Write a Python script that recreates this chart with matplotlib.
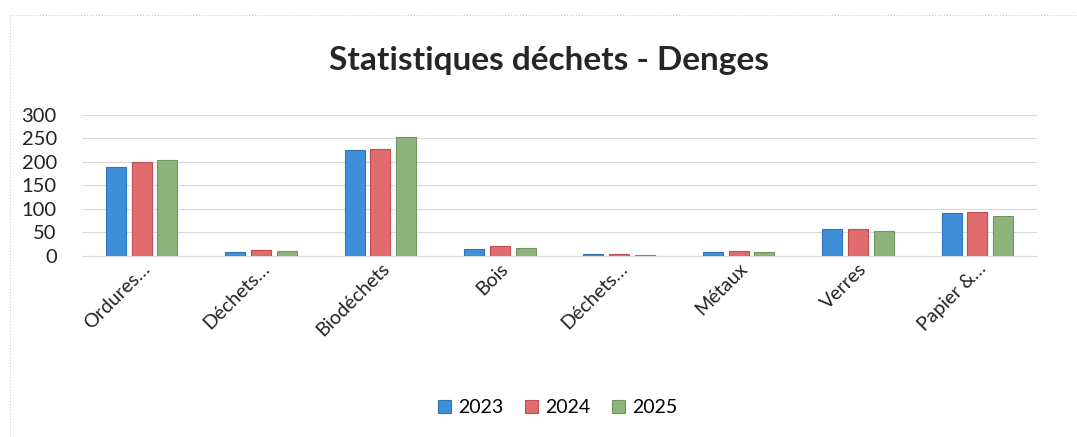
import numpy as np
import matplotlib as mpl
mpl.use("Agg")
import matplotlib.pyplot as plt

plt.rcParams['font.family'] = ['Lato', 'DejaVu Sans']

categories = ["Ordures…", "Déchets…", "Biodéchets", "Bois", "Déchets…",
              "Métaux", "Verres", "Papier &…"]
years = ["2023", "2024", "2025"]
v2023 = [190, 8, 225, 14, 3, 7, 57, 90]
v2024 = [200, 11, 227, 21, 2.5, 10, 57, 93]
v2025 = [204, 10, 252, 16, 2, 8, 52, 84]

colors = ["#3f8fd8", "#e06c6e", "#8db47b"]
edges = ["#2f74b8", "#c24d50", "#6d9660"]

fig = plt.figure(figsize=(10.77, 4.37), dpi=100)
ax = fig.add_axes([0.076, 0.415, 0.887, 0.322])

x = np.arange(len(categories))
width = 0.168
offset = 0.216
for i, (vals, lab) in enumerate(zip([v2023, v2024, v2025], years)):
    ax.bar(x + (i - 1) * offset, vals, width, color=colors[i],
           edgecolor=edges[i], linewidth=0.8, label=lab, zorder=3)

ax.set_xlim(-0.5, len(categories) - 0.5)
ax.set_ylim(0, 300)
ax.set_yticks(range(0, 301, 50))
ax.grid(axis='y', color='#d9d9d9', linewidth=0.8, zorder=0)
for s in ['top', 'right', 'left']:
    ax.spines[s].set_visible(False)
ax.spines['bottom'].set_color('#d9d9d9')
ax.tick_params(length=0, labelsize=14.5, colors='#222222')
ax.tick_params(axis='y', pad=18)
ax.set_xticks(x)
ax.set_xticklabels(categories, rotation=45, ha='right', rotation_mode='anchor',
                   fontsize=14)
ax.tick_params(axis='x', pad=3)

fig.text(0.51, 0.862, "Statistiques déchets - Denges", ha='center', va='center',
         fontsize=24, fontweight='bold', color='#262626')

fig.legend(loc='center', bbox_to_anchor=(0.518, 0.067), ncol=3, frameon=False,
           fontsize=14, handlelength=0.65, handleheight=0.65, handletextpad=0.4,
           columnspacing=1.1)

# faint border of the chart area
fig.add_artist(plt.Line2D([0.009, 1.0], [0.966, 0.966], color='#cccccc',
                          linewidth=0.8, linestyle=':', transform=fig.transFigure))
fig.add_artist(plt.Line2D([0.009, 0.009], [0.0, 0.966], color='#cccccc',
                          linewidth=0.8, linestyle=':', transform=fig.transFigure))

fig.savefig("out.png", dpi=100)
